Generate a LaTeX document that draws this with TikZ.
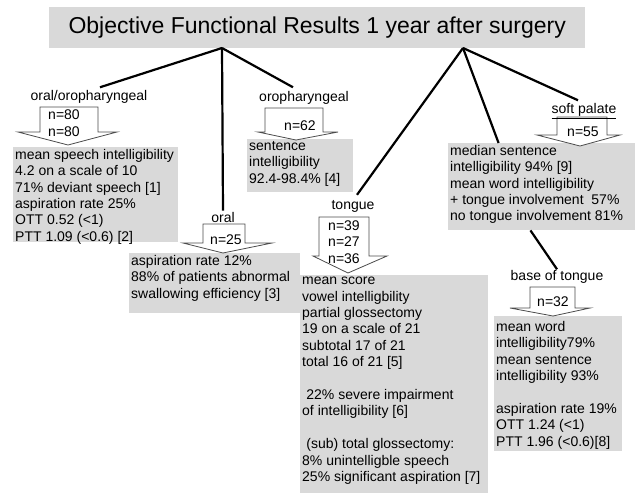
\documentclass[tikz,border=0pt]{standalone}
\usepackage{fontspec}
\setmainfont{Liberation Sans}
\usetikzlibrary{calc}
\definecolor{boxgray}{RGB}{217,217,217}
\begin{document}
\begin{tikzpicture}
  [x=1pt,y=-1pt,
   bodyF/.style={font=\fontsize{14}{16.4}\selectfont},
   boxN/.style={fill=boxgray,inner sep=0pt,anchor=north west},
   textN/.style={bodyF,align=left,inner sep=2pt,anchor=north west},
   labelN/.style={bodyF,inner sep=1pt},
   countN/.style={bodyF,align=center,inner sep=0pt},
   arrowN/.style={draw=black!70,fill=white,line width=0.8pt,line join=miter},
   branch/.style={line width=2.2pt}
  ]
  \useasboundingbox (0,0) rectangle (643,493);

  % title
  \node[boxN,minimum width=536pt,minimum height=41pt] (title) at (49,7) {};
  \node[font=\fontsize{23}{26}\selectfont] (titleT) at (title.center) {Objective Functional Results 1 year after surgery};
  \coordinate (rootL) at (222,48);
  \coordinate (rootR) at (463,48);

  % result boxes
  \node[boxN,minimum width=165pt,minimum height=95pt] (ooB) at (13,147) {};
  \node[boxN,minimum width=106pt,minimum height=53pt] (opB) at (247,139) {};
  \node[boxN,minimum width=171pt,minimum height=60pt] (oralB) at (129,253) {};
  \node[boxN,minimum width=188pt,minimum height=218pt] (tongB) at (300,275) {};
  \node[boxN,minimum width=187pt,minimum height=87pt] (medB) at (448,143) {};
  \node[boxN,minimum width=128pt,minimum height=135pt] (baseB) at (494,316) {};

  \node[textN] (ooT) at (ooB.north west) {mean speech intelligibility\\4.2 on a scale of 10\\71\% deviant speech [1]\\aspiration rate 25\%\\OTT 0.52 (<1)\\PTT 1.09 (<0.6) [2]};
  \node[textN] (opT) at (opB.north west) {sentence\\intelligibility\\92.4-98.4\% [4]};
  \node[textN] (oralT) at (oralB.north west) {aspiration rate 12\%\\88\% of patients abnormal\\swallowing efficiency [3]};
  \node[textN] (tongT) at (tongB.north west) {mean score\\vowel intelligbility\\partial glossectomy\\19 on a scale of 21\\subtotal 17 of 21\\total 16 of 21 [5]\\[16.4pt]
    \hspace{0.3em}22\% severe impairment\\of intelligibility [6]\\[16.4pt]
    \hspace{0.3em}(sub) total glossectomy:\\8\% unintelligble speech\\25\% significant aspiration [7]};
  \node[textN] (medT) at (medB.north west) {median sentence\\intelligibility 94\% [9]\\mean word intelligibility\\+ tongue involvement\ \ 57\%\\no tongue involvement 81\%};
  \node[textN] (baseT) at ([yshift=-3pt]baseB.north west) {mean word\\intelligibility79\%\\mean sentence\\intelligibility 93\%\\[16.4pt]
    aspiration rate 19\%\\OTT 1.24 (<1)\\PTT 1.96 (<0.6)[8]};

  % down arrows
  \foreach \l/\r/\t/\h/\hl/\hr/\tx/\ty in {40/98/107/132/18/117/68/145,
      265/323/108/132/258/338/296/140, 203/245/224/243/183/272/223/253,
      319/369/217/256/313/387/348/273, 557/607/117/135/537/620/580/146,
      530/575/287/308/510/590/553/316} {
     \draw[arrowN] (\l,\t) -- (\r,\t) -- (\r,\h) -- (\hr,\h) -- (\tx,\ty)
        -- (\hl,\h) -- (\l,\h) -- cycle;
  }

  \node[countN] (ooN) at (64,123) {n=80\\n=80};
  \node[countN] (opN) at (300,126) {n=62};
  \node[countN] (oralN) at (226,240) {n=25};
  \node[countN] (tongN) at (344,242) {n=39\\n=27\\n=36};
  \node[countN] (softN) at (583,132) {n=55};
  \node[countN] (baseN) at (553,302) {n=32};

  % site labels
  \node[labelN] (ooL) at (89,97) {oral/oropharyngeal};
  \node[labelN] (opL) at (304,98) {oropharyngeal};
  \node[labelN] (oralL) at (223,217) {oral};
  \node[labelN] (tongL) at (353,206) {tongue};
  \node[labelN] (softL) at (584,111) {\underline{soft palate}};
  \node[labelN] (baseL) at (557,277) {base of tongue};

  % branches
  \draw[branch] (rootL) -- ([xshift=11pt,yshift=2pt]ooL.north);
  \draw[branch] (rootL) -- (oralL.north);
  \draw[branch] (rootL) -- ([xshift=-11pt,yshift=3pt]opL.north);
  \draw[branch] (rootR) -- ([xshift=4pt,yshift=4pt]tongL.north);
  \draw[branch] (rootR) -- ([xshift=-6pt,yshift=2pt]softL.north);
  \draw[branch] (rootR) -- ($(medB.north west)!0.27!(medB.north east)$);
  \draw[branch] ($(medB.south west)!0.44!(medB.south east)$) -- (baseL.north);

\end{tikzpicture}
\end{document}
